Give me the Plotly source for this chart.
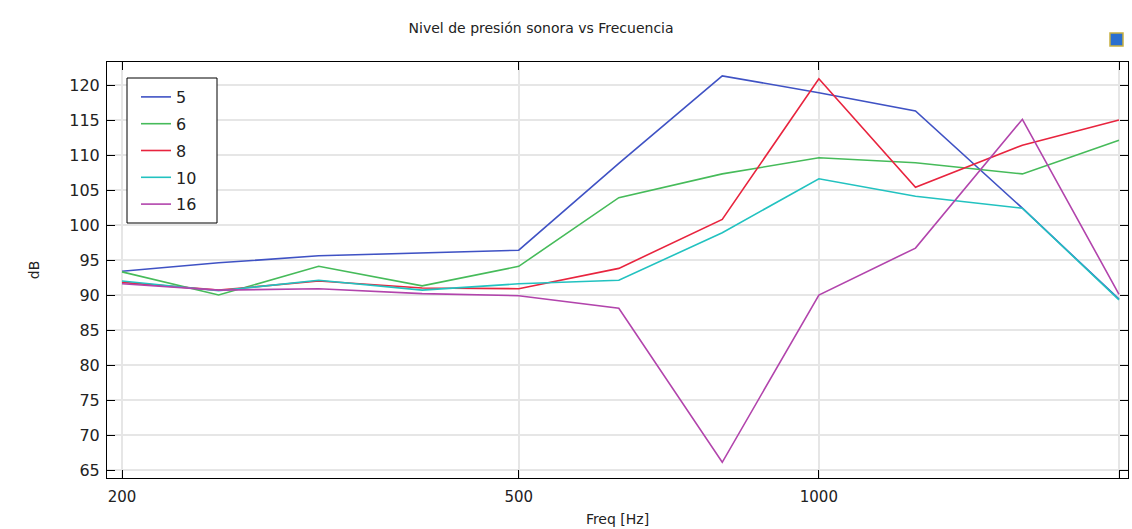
import plotly.graph_objects as go
import math

freq = [200, 250, 315, 400, 500, 630, 800, 1000, 1250, 1600, 2000]

s5 = [93.4, 94.6, 95.6, 96.0, 96.4, 108.8, 121.3, 118.9, 116.3, 102.4, 89.4]
s6 = [93.3, 90.0, 94.1, 91.3, 94.1, 103.9, 107.3, 109.6, 108.9, 107.3, 112.1]
s8 = [91.8, 90.7, 92.0, 91.0, 90.9, 93.8, 100.8, 120.9, 105.4, 111.4, 115.0]
s10 = [92.0, 90.6, 92.1, 90.7, 91.6, 92.1, 98.9, 106.6, 104.1, 102.4, 89.3]
s16 = [91.6, 90.7, 90.9, 90.2, 89.9, 88.1, 66.1, 90.0, 96.7, 115.1, 90.1]

series_names = ["5", "6", "8", "10", "16"]
series_vals = [s5, s6, s8, s10, s16]
colors = ["#3f52c4", "#46bb5a", "#e8243e", "#22c2c0", "#b244ac"]

x_ticks = [200, 500, 1000, 2000]
x_ticktext = ["200", "500", "1000", ""]
y_ticks = [65, 70, 75, 80, 85, 90, 95, 100, 105, 110, 115, 120]

# plot-area geometry (pixels)
L, R, T, B = 107, 1128, 62, 478
PW, PH = R - L, B - T


def px_x(p):
    return (p - L) / PW


def px_y(p):
    return (B - p) / PH


fig = go.Figure()
for name, vals, c in zip(series_names, series_vals, colors):
    fig.add_trace(go.Scatter(x=freq, y=vals, mode="lines", name=name, legendgroup=name,
                             line=dict(color=c, width=1.6)))

font_family = "DejaVu Sans"
fig.update_layout(
    width=1132, height=529,
    margin=dict(l=L, r=1132 - R, t=T, b=529 - B, autoexpand=False),
    paper_bgcolor="white", plot_bgcolor="white",
    font=dict(family=font_family, color="#222222"),
    title=dict(text="Nivel de presión sonora vs Frecuencia", x=0.478, xanchor="center",
               y=0.947, yanchor="middle", font=dict(size=14, family=font_family, color="#222")),
    showlegend=True,
    legend=dict(x=px_x(136), y=px_y(80), xanchor="left", yanchor="top",
                bgcolor="rgba(0,0,0,0)", borderwidth=0, tracegroupgap=3,
                font=dict(size=16, family=font_family, color="#222")),
    xaxis=dict(type="log", automargin=False,
               range=[math.log10(200) - 15 / 997, math.log10(200) - 15 / 997 + PW / 997],
               tickvals=x_ticks, ticktext=x_ticktext,
               ticks="inside", ticklen=8, tickcolor="black", ticklabelstandoff=5,
               showline=True, linecolor="black", linewidth=1, mirror="ticks",
               showgrid=True, gridcolor="#e6e6e6", gridwidth=1.5,
               zeroline=False,
               tickfont=dict(size=15, family=font_family, color="#222"),
               title=dict(text="Freq [Hz]", font=dict(size=14, family=font_family, color="#222"),
                          standoff=9)),
    yaxis=dict(range=[65 - 8 / 7, 65 + 408 / 7], automargin=False,
               tickvals=y_ticks,
               ticks="inside", ticklen=8, tickcolor="black", ticklabelstandoff=3,
               showline=True, linecolor="black", linewidth=1, mirror="ticks",
               showgrid=True, gridcolor="#e6e6e6", gridwidth=1.5,
               zeroline=False,
               tickfont=dict(size=16, family=font_family, color="#222"),
               title=dict(text="dB", font=dict(size=14, family=font_family, color="#222"),
                          standoff=26)),
)

# legend frame (white box with black border, drawn above the lines)
fig.add_shape(type="rect", xref="paper", yref="paper", layer="above",
              x0=px_x(127), x1=px_x(217), y0=px_y(223), y1=px_y(78),
              fillcolor="white", line=dict(color="black", width=1))

# small toolbar-like icon at the top right
fig.add_shape(type="rect", xref="paper", yref="paper",
              x0=px_x(1110), x1=px_x(1123), y0=px_y(46), y1=px_y(33),
              fillcolor="#2a6fd0", line=dict(color="#c8b040", width=1.5))

fig.write_html("out.html")
